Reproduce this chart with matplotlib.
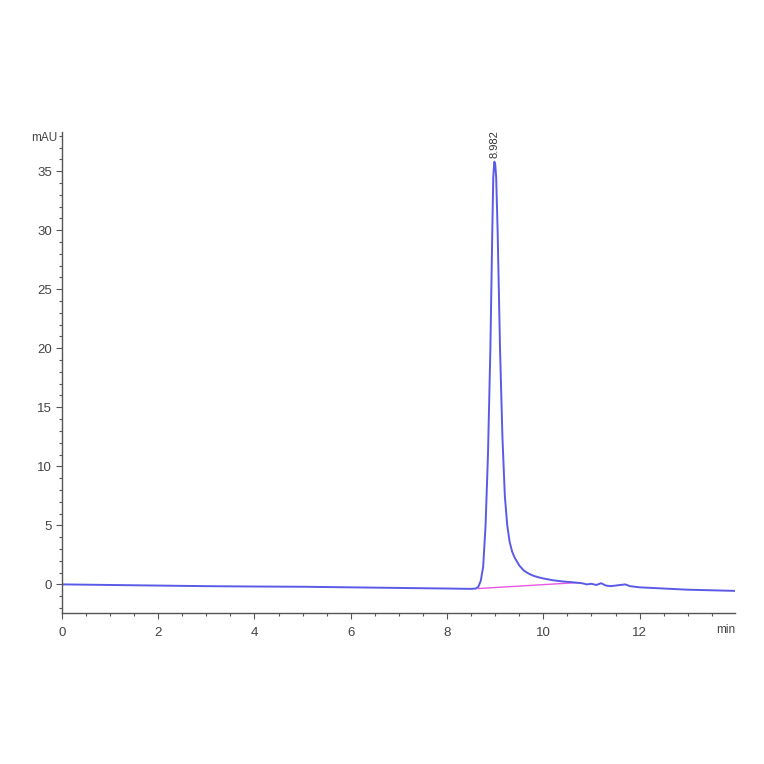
import numpy as np
import matplotlib.pyplot as plt
from matplotlib.ticker import MultipleLocator

# chromatogram trace (time in min, signal in mAU)
time = [0.0, 1.0, 2.0, 3.0, 4.0, 5.0, 6.0, 7.0, 8.0, 8.5, 8.6, 8.65, 8.7,
        8.75, 8.8, 8.85, 8.9, 8.94, 8.96, 8.982, 9.0, 9.02, 9.05, 9.1, 9.15,
        9.2, 9.25, 9.3, 9.35, 9.4, 9.5, 9.6, 9.7, 9.8, 9.9, 10.0, 10.2,
        10.4, 10.6, 10.8, 10.9, 11.0, 11.1, 11.2, 11.3, 11.4, 11.6, 11.7,
        11.8, 12.0, 12.5, 13.0, 13.5, 13.98]
signal = [0.0, -0.05, -0.1, -0.15, -0.18, -0.2, -0.25, -0.3, -0.35, -0.38,
          -0.35, -0.2, 0.3, 1.5, 5.0, 11.0, 20.0, 30.0, 34.5, 35.8, 35.6,
          34.5, 30.0, 20.0, 12.5, 7.5, 5.0, 3.6, 2.8, 2.3, 1.6, 1.15, 0.9,
          0.72, 0.6, 0.5, 0.35, 0.25, 0.18, 0.1, 0.0, 0.05, -0.05, 0.1,
          -0.1, -0.15, -0.05, 0.0, -0.15, -0.25, -0.35, -0.45, -0.5, -0.55]

# integration baseline under the peak
base_t = [8.65, 10.7]
base_y = [-0.35, 0.15]

peak_rt = 8.982
peak_h = 35.8

fig = plt.figure(figsize=(7.64, 7.64), dpi=100)
ax = fig.add_axes([0.081, 0.198, 0.881, 0.629])

ax.plot(base_t, base_y, color='#e858e0', lw=1.0)
ax.plot(time, signal, color='#5a5ae6', lw=1.4)

ax.text(peak_rt, peak_h + 0.3, '8.982', rotation=90, ha='center', va='bottom',
        fontsize=8, color='#333333', family='Liberation Sans')

ax.set_xlim(0, 13.98)
ax.set_ylim(-2.4, 38.3)
ax.xaxis.set_major_locator(MultipleLocator(2))
ax.xaxis.set_minor_locator(MultipleLocator(0.5))
ax.yaxis.set_major_locator(MultipleLocator(5))
ax.yaxis.set_minor_locator(MultipleLocator(1))

for s in ['top', 'right']:
    ax.spines[s].set_visible(False)
for s in ['left', 'bottom']:
    ax.spines[s].set_color('#555555')
    ax.spines[s].set_linewidth(1.0)

ax.tick_params(which='major', length=4, width=0.8, color='#555555',
               labelsize=9.5, labelcolor='#444444', pad=3)
ax.tick_params(axis='x', which='major', pad=6)
ax.tick_params(which='minor', length=2, width=0.8, color='#555555')
for lab in ax.get_xticklabels() + ax.get_yticklabels():
    lab.set_family('Liberation Sans')

ax.text(-0.006, 1.0, 'mAU', transform=ax.transAxes, ha='right', va='top',
        fontsize=8.5, color='#444444', family='Liberation Sans')
ax.text(1.0, -0.024, 'min', transform=ax.transAxes, ha='right', va='top',
        fontsize=8.5, color='#444444', family='Liberation Sans')

fig.savefig('out.png', dpi=100)
